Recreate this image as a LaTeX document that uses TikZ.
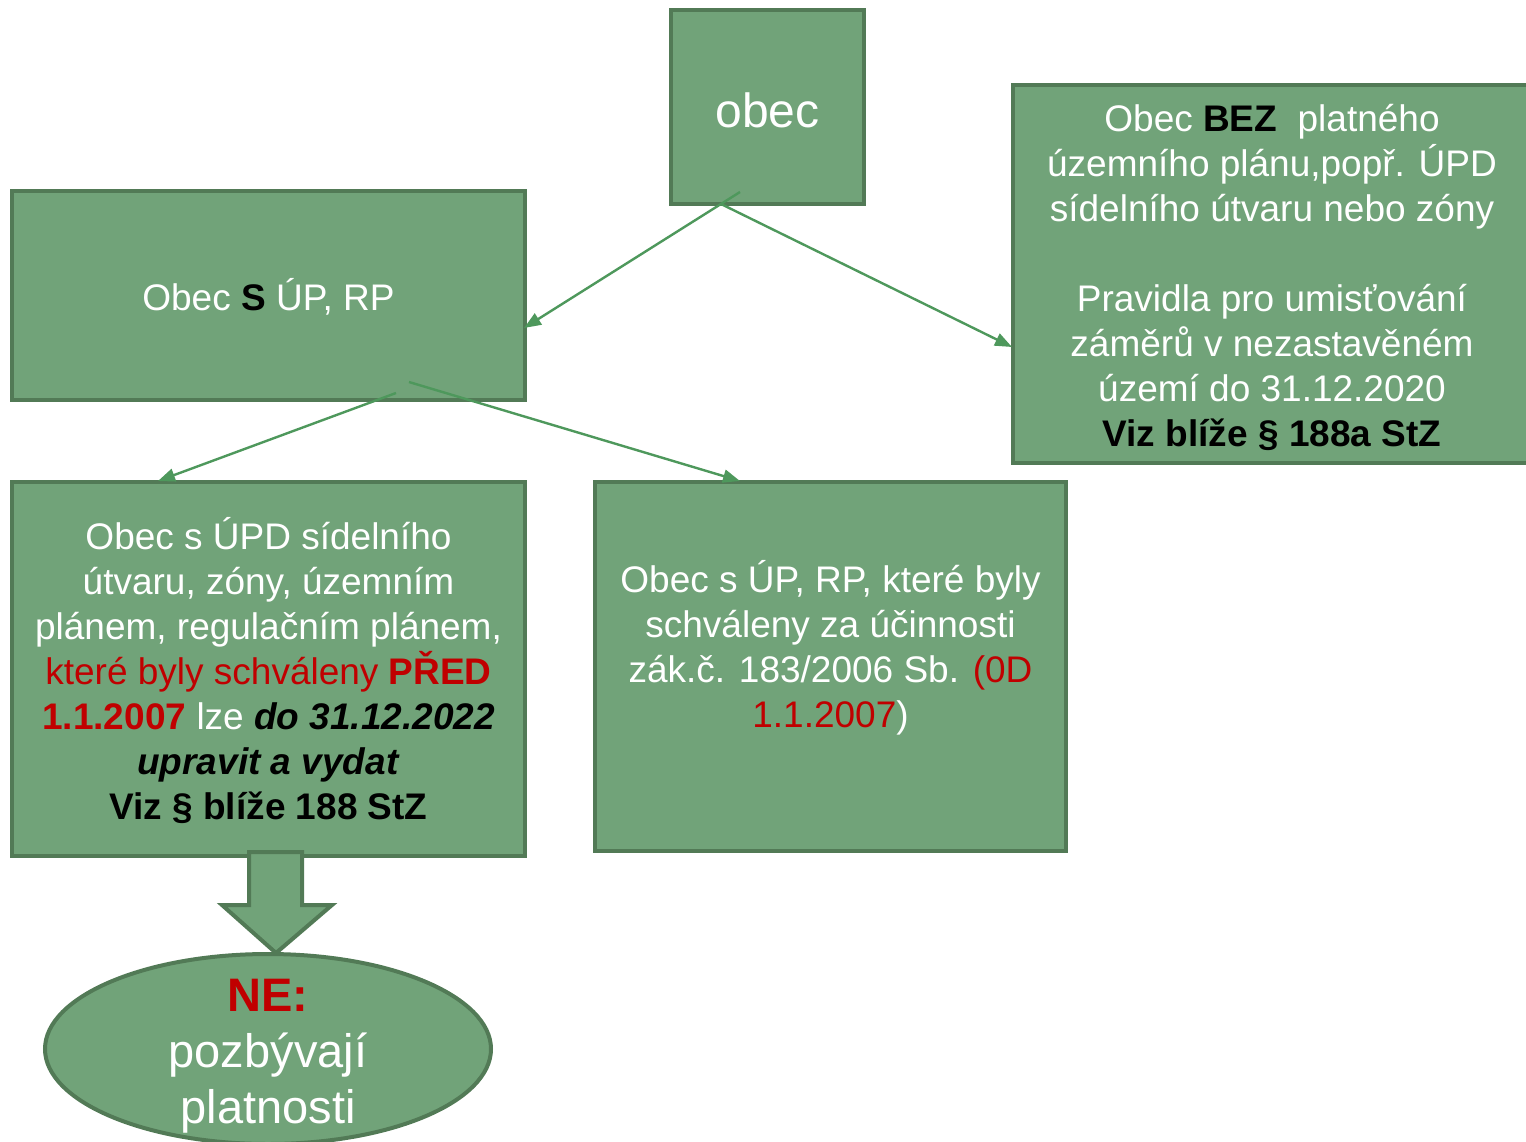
\documentclass[tikz,border=0pt]{standalone}
\usepackage{fontspec}
\setmainfont{Liberation Sans}
\usetikzlibrary{shapes.geometric,arrows.meta}
\definecolor{boxfill}{RGB}{113,163,121}
\definecolor{boxline}{RGB}{82,122,86}
\definecolor{connc}{RGB}{78,152,92}
\definecolor{redt}{RGB}{192,0,0}
\tikzset{
  gbox/.style={draw=boxline, fill=boxfill, line width=2pt, rectangle, inner sep=0pt, text=white, align=center},
  conn/.style={draw=connc, line width=1.2pt, -{Triangle[length=8.5pt,width=6.5pt]}},
  txt/.style={font=\fontsize{18.5}{22.5}\selectfont, text=white, align=center, inner sep=0pt},
}
\begin{document}
\begin{tikzpicture}[x=0.5pt,y=-0.5pt]
\useasboundingbox (0,0) rectangle (1526,1141);
\begin{scope}
\clip (0,0) rectangle (1526,1141);
% boxes
\node[gbox, minimum width=96.5pt, minimum height=97pt] (obec) at (767.5,107) {};
\node[txt, font=\fontsize{24}{28}\selectfont] (obect) at (767.5,110) {obec};

\node[gbox, minimum width=256.5pt, minimum height=104.5pt] (sbox) at (268.5,295.5) {};
\node[txt] (sboxt) at (268.5,297) {Obec \textcolor{black}{\textbf{S}} ÚP, RP};

\node[gbox, minimum width=259pt, minimum height=189pt] (bez) at (1272,274) {};
\node[txt] (bezt) at (1272,277) {Obec \textcolor{black}{\textbf{BEZ}}\ \ platného\\územního plánu,popř. ÚPD\\sídelního útvaru nebo zóny\\[22.5pt]Pravidla pro umisťování\\záměrů v nezastavěném\\území do 31.12.2020\\\textcolor{black}{\textbf{Viz blíže § 188a StZ}}};

\node[gbox, minimum width=256.5pt, minimum height=187pt] (upd) at (268.5,669) {};
\node[txt] (updt) at (268.5,671) {Obec s ÚPD sídelního\\útvaru, zóny, územním\\plánem, regulačním plánem,\\\textcolor{redt}{které byly schváleny \textbf{PŘED}}\\\textcolor{redt}{\textbf{1.1.2007}} lze \textcolor{black}{\textbf{\textit{do 31.12.2022}}}\\\textcolor{black}{\textbf{\textit{upravit a vydat}}}\\\textcolor{black}{\textbf{Viz § blíže 188 StZ}}};

\node[gbox, minimum width=235.5pt, minimum height=184.5pt] (up) at (830.5,666.5) {};
\node[txt] (upt) at (830.5,648) {Obec s ÚP, RP, které byly\\schváleny za účinnosti\\zák.č. 183/2006 Sb. \textcolor{redt}{(0D}\\\textcolor{redt}{1.1.2007})};

% block arrow
\draw[draw=boxline, fill=boxfill, line width=2pt, line join=miter]
  (249,852) -- (302,852) -- (302,905) -- (332,905) -- (276,953) -- (222,905) -- (249,905) -- cycle;

% ellipse
\node[ellipse, draw=boxline, fill=boxfill, line width=2pt, minimum width=223pt, minimum height=95pt, inner sep=0pt] (ne) at (268,1049) {};
\node[txt, font=\fontsize{23.5}{28}\selectfont] (net) at (268,1056) {\textcolor{redt}{\textbf{NE:}}\\pozbývají\\platnosti};

% connectors
\coordinate (a1) at (740,192);
\coordinate (a1e) at (524,328);
\coordinate (a2) at (721,204);
\coordinate (a2e) at (1012,347);
\coordinate (a3) at (396,393);
\coordinate (a3e) at (158,481);
\coordinate (a4) at (409,382);
\coordinate (a4e) at (740,481);
\draw[conn] (a1) -- (a1e);
\draw[conn] (a2) -- (a2e);
\draw[conn] (a3) -- (a3e);
\draw[conn] (a4) -- (a4e);
\end{scope}
\end{tikzpicture}
\end{document}
